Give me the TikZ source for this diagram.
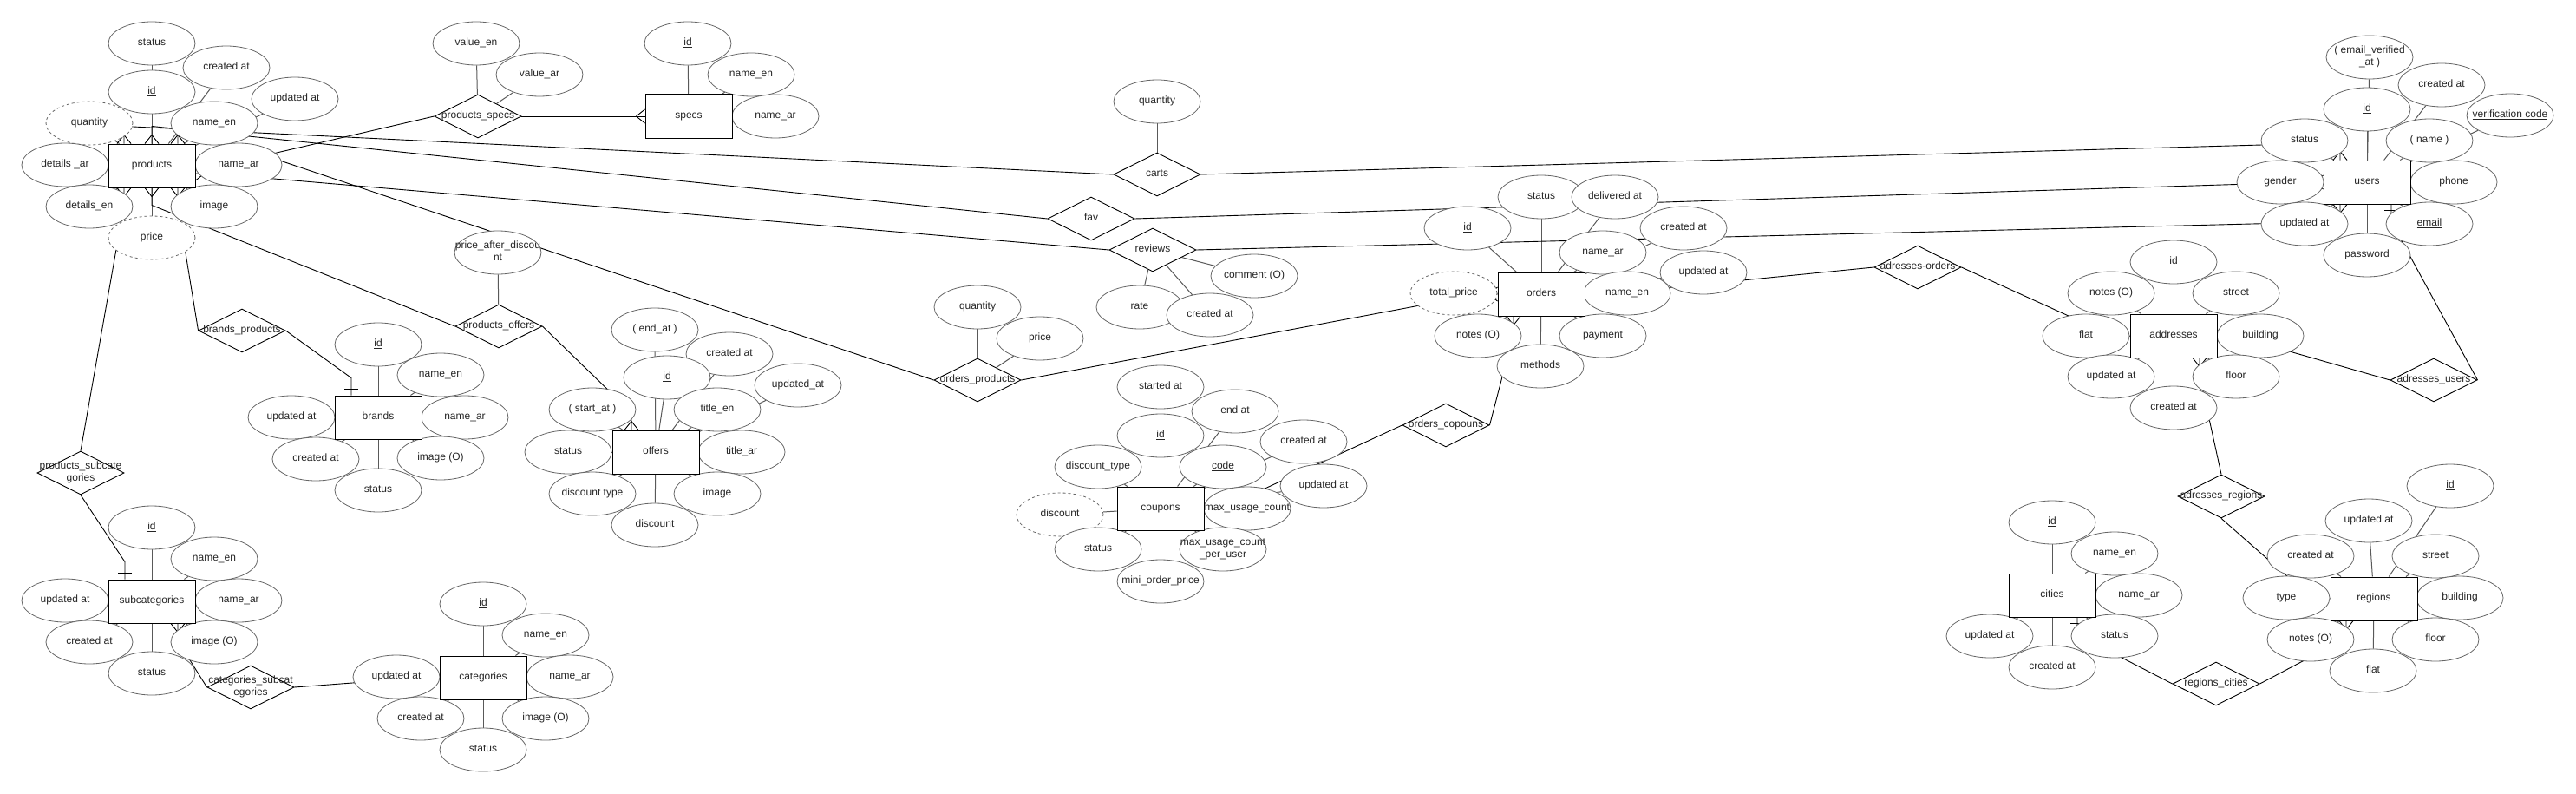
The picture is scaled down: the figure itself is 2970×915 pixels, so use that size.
\documentclass[tikz,border=0pt]{standalone}
\usepackage{fontspec}
\setmainfont{Liberation Sans}
\usetikzlibrary{shapes.geometric,calc}
\pgfdeclarelayer{bg}
\pgfsetlayers{bg,main}
\newcommand{\fsz}{\fontsize{12pt}{14pt}\selectfont}
\newcommand{\T}[1]{\makebox[0pt]{\begin{tabular}{@{}c@{}}#1\end{tabular}}}
\newcommand{\U}[1]{\T{\underline{#1}}}
\newcommand{\mkmany}[3]{%
  \draw[rlink] ($(#1)+({10*(#2)},{10*(#3)})$) -- ($(#1)+({-8*(#3)},{8*(#2)})$)
               ($(#1)+({10*(#2)},{10*(#3)})$) -- ($(#1)+({8*(#3)},{-8*(#2)})$);}
\newcommand{\mkone}[3]{%
  \draw[rlink] ($(#1)+({7*(#2)-8*(#3)},{7*(#3)+8*(#2)})$) -- ($(#1)+({7*(#2)+8*(#3)},{7*(#3)-8*(#2)})$);}
\tikzset{
  attr/.style={ellipse, draw=black!60, line width=0.8pt, fill=white, minimum width=100pt,
    minimum height=50pt, inner sep=0pt, font=\fsz, text=black!85},
  dattr/.style={attr, dash pattern=on 3pt off 3pt},
  ent/.style={rectangle, draw=black, line width=1pt, fill=white, minimum width=100pt,
    minimum height=50pt, inner sep=0pt, font=\fsz, text=black!85},
  rel/.style={diamond, aspect=2, draw=black, line width=0.9pt, fill=white, minimum width=100pt,
    minimum height=50pt, inner sep=0pt, font=\fsz, text=black!85},
  alink/.style={draw=black!65, line width=1pt},
  rlink/.style={draw=black, line width=0.9pt},
}
\begin{document}
\begin{tikzpicture}[x=1pt,y=-1pt]
\begin{pgfonlayer}{bg}
\fill[white] (0,0) rectangle (2970,915);
\end{pgfonlayer}
\useasboundingbox (0,0) rectangle (2970,915);

% ---------- products
\node[attr] (p_st) at (175,50) {\T{status}};
\node[attr] (p_ca) at (261,78) {\T{created at}};
\node[attr] (p_id) at (175,106) {\U{id}};
\node[attr] (p_ua) at (340,114) {\T{updated at}};
\node[dattr] (p_qt) at (103,142) {\T{quantity}};
\node[attr] (p_ne) at (247,142) {\T{name\_en}};
\node[attr] (p_da) at (75,190) {\T{details \_ar}};
\node[attr] (p_na) at (275,190) {\T{name\_ar}};
\node[attr] (p_de) at (103,238) {\T{details\_en}};
\node[attr] (p_im) at (247,238) {\T{image}};
\node[dattr] (p_pr) at (175,274) {\T{price}};
\node[ent] (p) at (175,191) {\T{products}};

% ---------- specs
\node[attr] (s_id) at (793,50) {\U{id}};
\node[attr] (s_ne) at (866,86) {\T{name\_en}};
\node[attr] (s_na) at (894,134) {\T{name\_ar}};
\node[ent] (s) at (794,134) {\T{specs}};

% ---------- brands
\node[attr] (b_id) at (436,397) {\U{id}};
\node[attr] (b_ne) at (508,432) {\T{name\_en}};
\node[attr] (b_na) at (536,481) {\T{name\_ar}};
\node[attr] (b_ua) at (336,481) {\T{updated at}};
\node[attr] (b_ca) at (364,529) {\T{created at}};
\node[attr] (b_im) at (508,528) {\T{image (O)}};
\node[attr] (b_st) at (436,565) {\T{status}};
\node[ent] (b) at (436,481) {\T{brands}};

% ---------- subcategories
\node[attr] (sc_id) at (175,608) {\U{id}};
\node[attr] (sc_ne) at (247,644) {\T{name\_en}};
\node[attr] (sc_na) at (275,692) {\T{name\_ar}};
\node[attr] (sc_ua) at (75,692) {\T{updated at}};
\node[attr] (sc_ca) at (103,740) {\T{created at}};
\node[attr] (sc_im) at (247,740) {\T{image (O)}};
\node[attr] (sc_st) at (175,776) {\T{status}};
\node[ent] (sc) at (175,693) {\T{subcategories}};

% ---------- categories
\node[attr] (c_id) at (557,696) {\U{id}};
\node[attr] (c_ne) at (629,732) {\T{name\_en}};
\node[attr] (c_na) at (657,780) {\T{name\_ar}};
\node[attr] (c_ua) at (457,780) {\T{updated at}};
\node[attr] (c_ca) at (485,828) {\T{created at}};
\node[attr] (c_im) at (629,828) {\T{image (O)}};
\node[attr] (c_st) at (557,864) {\T{status}};
\node[ent] (c) at (557,781) {\T{categories}};

% ---------- offers
\node[attr] (o_ea) at (755,380) {\T{( end\_at )}};
\node[attr] (o_ca) at (841,408) {\T{created at}};
\node[attr] (o_id) at (769,435) {\U{id}};
\node[attr] (o_ua) at (920,444) {\T{updated\_at}};
\node[attr] (o_sa) at (683,472) {\T{( start\_at )}};
\node[attr] (o_te) at (827,472) {\T{title\_en}};
\node[attr] (o_st) at (655,521) {\T{status}};
\node[attr] (o_ta) at (855,521) {\T{title\_ar}};
\node[attr] (o_dt) at (683,569) {\T{discount type}};
\node[attr] (o_im) at (827,569) {\T{image}};
\node[attr] (o_di) at (755,605) {\T{discount}};
\node[ent] (o) at (756,521) {\T{offers}};

% ---------- coupons
\node[attr] (cp_sa) at (1338,446) {\T{started at}};
\node[attr] (cp_ea) at (1424,474) {\T{end at}};
\node[attr] (cp_id) at (1338,502) {\U{id}};
\node[attr] (cp_ca) at (1503,509) {\T{created at}};
\node[attr] (cp_ua) at (1526,560) {\T{updated at}};
\node[attr] (cp_dt) at (1266,538) {\T{discount\_type}};
\node[attr] (cp_co) at (1410,538) {\U{code}};
\node[dattr] (cp_di) at (1222,593) {\T{discount}};
\node[attr] (cp_mu) at (1438,586) {\T{max\_usage\_count}};
\node[attr] (cp_st) at (1266,633) {\T{status}};
\node[attr] (cp_mp) at (1410,633) {\T{max\_usage\_count\\\_per\_user}};
\node[attr] (cp_mo) at (1338,670) {\T{mini\_order\_price}};
\node[ent] (cp) at (1338,586) {\T{coupons}};

% ---------- orders
\node[attr] (od_st) at (1777,227) {\T{status}};
\node[attr] (od_da) at (1862,227) {\T{delivered at}};
\node[attr] (od_id) at (1692,263) {\U{id}};
\node[attr] (od_ca) at (1941,263) {\T{created at}};
\node[attr] (od_na) at (1848,291) {\T{name\_ar}};
\node[attr] (od_ua) at (1964,314) {\T{updated at}};
\node[dattr] (od_tp) at (1676,338) {\T{total\_price}};
\node[attr] (od_ne) at (1876,338) {\T{name\_en}};
\node[attr] (od_no) at (1704,387) {\T{notes (O)}};
\node[attr] (od_pa) at (1848,387) {\T{payment}};
\node[attr] (od_me) at (1776,422) {\T{methods}};
\node[ent] (od) at (1777,339) {\T{orders}};

% ---------- users
\node[attr] (u_ev) at (2732,66) {\T{( email\_verified\\\_at )}};
\node[attr] (u_ca) at (2815,98) {\T{created at}};
\node[attr] (u_id) at (2729,126) {\U{id}};
\node[attr] (u_vc) at (2894,133) {\U{verification code}};
\node[attr] (u_st) at (2657,162) {\T{status}};
\node[attr] (u_nm) at (2801,162) {\T{( name )}};
\node[attr] (u_ge) at (2629,210) {\T{gender}};
\node[attr] (u_ph) at (2829,210) {\T{phone}};
\node[attr] (u_ua) at (2657,258) {\T{updated at}};
\node[attr] (u_em) at (2801,258) {\U{email}};
\node[attr] (u_pw) at (2729,294) {\T{password}};
\node[ent] (u) at (2729,210) {\T{users}};

% ---------- addresses
\node[attr] (a_id) at (2506,302) {\U{id}};
\node[attr] (a_no) at (2434,338) {\T{notes (O)}};
\node[attr] (a_st) at (2578,338) {\T{street}};
\node[attr] (a_fl) at (2405,387) {\T{flat}};
\node[attr] (a_bu) at (2606,387) {\T{building}};
\node[attr] (a_ua) at (2434,434) {\T{updated at}};
\node[attr] (a_fo) at (2578,434) {\T{floor}};
\node[attr] (a_ca) at (2506,470) {\T{created at}};
\node[ent] (a) at (2506,387) {\T{addresses}};

% ---------- cities
\node[attr] (ci_id) at (2366,602) {\U{id}};
\node[attr] (ci_ne) at (2438,638) {\T{name\_en}};
\node[attr] (ci_na) at (2466,686) {\T{name\_ar}};
\node[attr] (ci_ua) at (2294,733) {\T{updated at}};
\node[attr] (ci_st) at (2438,733) {\T{status}};
\node[attr] (ci_ca) at (2366,769) {\T{created at}};
\node[ent] (ci) at (2366,686) {\T{cities}};

% ---------- regions
\node[attr] (r_id) at (2825,560) {\U{id}};
\node[attr] (r_ua) at (2731,600) {\T{updated at}};
\node[attr] (r_ca) at (2664,641) {\T{created at}};
\node[attr] (r_st) at (2808,641) {\T{street}};
\node[attr] (r_ty) at (2636,689) {\T{type}};
\node[attr] (r_bu) at (2836,689) {\T{building}};
\node[attr] (r_no) at (2664,737) {\T{notes (O)}};
\node[attr] (r_fo) at (2808,737) {\T{floor}};
\node[attr] (r_fl) at (2736,773) {\T{flat}};
\node[ent] (r) at (2737,690) {\T{regions}};

% ---------- relationships
\node[attr] (ps_ve) at (549,50) {\T{value\_en}};
\node[attr] (ps_va) at (622,86) {\T{value\_ar}};
\node[rel] (ps) at (551,134) {\T{products\_specs}};
\node[attr] (ca_q) at (1334,117) {\T{quantity}};
\node[rel] (ca) at (1334,201) {\T{carts}};
\node[rel] (fv) at (1258,252) {\T{fav}};
\node[rel] (rv) at (1329,288) {\T{reviews}};
\node[attr] (rv_r) at (1314,354) {\T{rate}};
\node[attr] (rv_m) at (1446,318) {\T{comment (O)}};
\node[attr] (rv_c) at (1395,363) {\T{created at}};
\node[attr] (op_q) at (1127,354) {\T{quantity}};
\node[attr] (op_p) at (1199,390) {\T{price}};
\node[rel] (op) at (1127,438) {\T{orders\_products}};
\node[attr] (po_pad) at (574,291) {\T{price\_after\_discou\\nt}};
\node[rel] (po) at (575,376) {\T{products\_offers}};
\node[rel] (bp) at (279,381) {\T{brands\_products}};
\node[rel] (psc) at (93,545) {\T{products\_subcate\\gories}};
\node[rel] (csc) at (289,792) {\T{categories\_subcat\\egories}};
\node[rel] (oc) at (1667,490) {\T{orders\_copouns}};
\node[rel] (ao) at (2211,308) {\T{adresses-orders}};
\node[rel] (au) at (2806,438) {\T{adresses\_users}};
\node[rel] (ar) at (2561,572) {\T{adresses\_regions}};
\node[rel] (rc) at (2555,788) {\T{regions\_cities}};

% ---------- connection points on entity borders
\coordinate (e1a) at ($(p.east)+(0,2)$);
\coordinate (e2a) at ($(p.north)+(-32,0)$);
\coordinate (e2b) at ($(u.north)+(-31,0)$);
\coordinate (e4a) at ($(p.east)+(0,9)$);
\coordinate (e4b) at ($(u.south)+(-31,0)$);
\coordinate (e5a) at ($(p.north)+(30,0)$);
\coordinate (e6b) at ($(o.north)+(-28,0)$);
\coordinate (e7a) at ($(p.south)+(30,0)$);
\coordinate (e7b) at ($(b.north)+(-31,0)$);
\coordinate (e8a) at ($(p.south)+(-32,0)$);
\coordinate (e8b) at ($(sc.north)+(-31,0)$);
\coordinate (e9a) at ($(sc.south)+(30,0)$);
\coordinate (e10a) at ($(od.south)+(-32,0)$);
\coordinate (e12b) at ($(u.south)+(28,0)$);
\coordinate (e13a) at ($(a.south)+(30,0)$);
\coordinate (e14a) at ($(ci.south)+(29,0)$);
\coordinate (e14b) at ($(r.south)+(-32,0)$);

\begin{pgfonlayer}{bg}
% attribute links
\foreach \q in {p_st,p_ca,p_id,p_ua,p_qt,p_ne,p_da,p_na,p_de,p_im,p_pr} \draw[alink] (\q) -- (p);
\foreach \q in {s_id,s_ne,s_na} \draw[alink] (\q) -- (s);
\foreach \q in {b_id,b_ne,b_na,b_ua,b_ca,b_im,b_st} \draw[alink] (\q) -- (b);
\foreach \q in {sc_id,sc_ne,sc_na,sc_ua,sc_ca,sc_im,sc_st} \draw[alink] (\q) -- (sc);
\foreach \q in {c_id,c_ne,c_na,c_ua,c_ca,c_im,c_st} \draw[alink] (\q) -- (c);
\foreach \q in {o_ea,o_ca,o_id,o_ua,o_sa,o_te,o_st,o_ta,o_dt,o_im,o_di} \draw[alink] (\q) -- (o);
\foreach \q in {cp_sa,cp_ea,cp_id,cp_dt,cp_co,cp_di,cp_mu,cp_st,cp_mp,cp_mo,cp_ca,cp_ua} \draw[alink] (\q) -- (cp);
\foreach \q in {od_st,od_da,od_id,od_ca,od_na,od_ua,od_tp,od_ne,od_no,od_pa,od_me} \draw[alink] (\q) -- (od);
\foreach \q in {u_ev,u_ca,u_id,u_vc,u_st,u_nm,u_ge,u_ph,u_ua,u_em,u_pw} \draw[alink] (\q) -- (u);
\foreach \q in {a_id,a_no,a_st,a_fl,a_bu,a_ua,a_fo,a_ca} \draw[alink] (\q) -- (a);
\foreach \q in {ci_id,ci_ne,ci_na,ci_ua,ci_st,ci_ca} \draw[alink] (\q) -- (ci);
\foreach \q in {r_id,r_ua,r_ca,r_st,r_ty,r_bu,r_no,r_fo,r_fl} \draw[alink] (\q) -- (r);
\draw[alink] (ps_ve) -- (ps);
\draw[alink] (ps_va) -- (ps);
\draw[alink] (ca_q) -- (ca);
\draw[alink] (rv_r) -- (rv);
\draw[alink] (rv_c) -- (rv);
\draw[alink] (rv_m) -- (rv);
\draw[alink] (op_q) -- (op);
\draw[alink] (op_p) -- (op);
\draw[alink] (po_pad) -- (po);

% relationship edges
\draw[rlink] (e1a) -- ++(20,0) -- (ps.west);
\draw[rlink] (ps.east) -- (s.west); \mkmany{s.west}{-1}{0}
\draw[rlink] (e2a) -- ++(0,-20) -- (ca.west); \mkmany{e2a}{0}{-1}
\draw[rlink] (e2b) -- ++(0,-20) -- (ca.east); \mkmany{e2b}{0}{-1}
\draw[rlink] (p.north) -- ++(0,-20) -- (fv.west); \mkmany{p.north}{0}{-1}
\draw[rlink] (u.west) -- ++(-20,0) -- (fv.east); \mkmany{u.west}{-1}{0}
\draw[rlink] (e4a) -- ++(20,0) -- (rv.west); \mkmany{e4a}{1}{0}
\draw[rlink] (e4b) -- ++(0,20) -- (rv.east); \mkmany{e4b}{0}{1}
\draw[rlink] (e5a) -- ++(0,-20) -- (op.west); \mkmany{e5a}{0}{-1}
\draw[rlink] (od.west) -- ++(-20,0) -- (op.east); \mkmany{od.west}{-1}{0}
\draw[rlink] (p.south) -- ++(0,20) -- (po.west); \mkmany{p.south}{0}{1}
\draw[rlink] (e6b) -- ++(0,-20) -- (po.east); \mkmany{e6b}{0}{-1}
\draw[rlink] (e7a) -- ++(0,20) -- (bp.west); \mkmany{e7a}{0}{1}
\draw[rlink] (e7b) -- ++(0,-20) -- (bp.east); \mkone{e7b}{0}{-1}
\draw[rlink] (e8a) -- ++(0,20) -- (psc.north); \mkmany{e8a}{0}{1}
\draw[rlink] (e8b) -- ++(0,-20) -- (psc.south); \mkone{e8b}{0}{-1}
\draw[rlink] (e9a) -- ++(0,20) -- (csc.west); \mkmany{e9a}{0}{1}
\draw[rlink] (c.west) -- ++(-20,0) -- (csc.east); \mkone{c.west}{-1}{0}
\draw[rlink] (e10a) -- ++(0,20) -- (oc.east); \mkmany{e10a}{0}{1}
\draw[rlink] (cp.east) -- ++(20,0) -- (oc.west);
\draw[rlink] (od.east) -- ++(20,0) -- (ao.west);
\draw[rlink] (a.west) -- ++(-20,0) -- (ao.east);
\draw[rlink] (a.east) -- ++(20,0) -- (au.west);
\draw[rlink] (e12b) -- ++(0,20) -- (au.east); \mkone{e12b}{0}{1}
\draw[rlink] (e13a) -- ++(0,20) -- (ar.north); \mkmany{e13a}{0}{1}
\draw[rlink] (r.west) -- ++(-20,0) -- (ar.south);
\draw[rlink] (e14a) -- ++(0,20) -- (rc.west); \mkone{e14a}{0}{1}
\draw[rlink] (e14b) -- ++(0,20) -- (rc.east); \mkmany{e14b}{0}{1}
\end{pgfonlayer}
\end{tikzpicture}
\end{document}
